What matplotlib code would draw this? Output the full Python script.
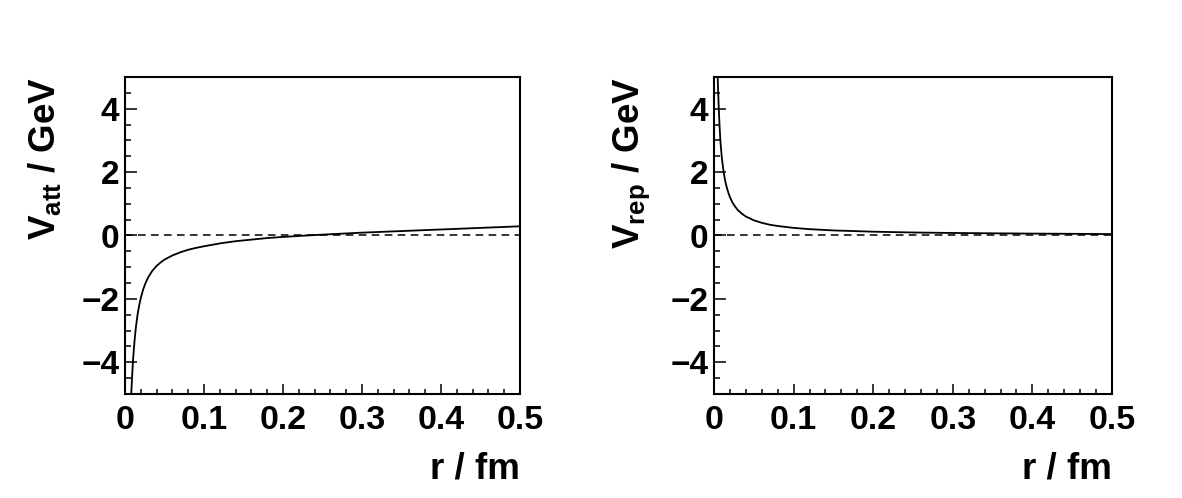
import numpy as np
import matplotlib
matplotlib.use("Agg")
import matplotlib.pyplot as plt
from matplotlib.ticker import MultipleLocator

plt.rcParams['font.family'] = ['Liberation Sans', 'DejaVu Sans']
plt.rcParams['font.weight'] = 'bold'
plt.rcParams['mathtext.fontset'] = 'custom'
plt.rcParams['mathtext.rm'] = 'Liberation Sans:bold'
plt.rcParams['mathtext.it'] = 'Liberation Sans:bold'
plt.rcParams['mathtext.bf'] = 'Liberation Sans:bold'

# attractive potential
r_att = [0.007, 0.008, 0.009, 0.010, 0.011, 0.012, 0.013, 0.014, 0.016, 0.018,
         0.020, 0.023, 0.026, 0.030, 0.035, 0.040, 0.045, 0.050, 0.060, 0.070,
         0.080, 0.090, 0.100, 0.120, 0.140, 0.160, 0.180, 0.200, 0.230, 0.260,
         0.300, 0.350, 0.400, 0.450, 0.500]
v_att = [-5.6, -4.95, -4.45, -4.0, -3.65, -3.35, -3.08, -2.85, -2.48, -2.2,
         -1.97, -1.70, -1.50, -1.29, -1.10, -0.96, -0.85, -0.76, -0.63, -0.53,
         -0.45, -0.39, -0.34, -0.25, -0.18, -0.13, -0.08, -0.045, 0.0, 0.04,
         0.09, 0.14, 0.19, 0.24, 0.29]

# repulsive potential
r_rep = [0.004, 0.005, 0.006, 0.007, 0.008, 0.009, 0.010, 0.012, 0.014, 0.016,
         0.018, 0.020, 0.023, 0.026, 0.030, 0.035, 0.040, 0.050, 0.060, 0.070,
         0.080, 0.100, 0.120, 0.150, 0.200, 0.250, 0.300, 0.350, 0.400, 0.450,
         0.500]
v_rep = [5.6, 4.7, 4.0, 3.45, 3.0, 2.68, 2.42, 2.02, 1.73, 1.52,
         1.35, 1.21, 1.05, 0.93, 0.80, 0.69, 0.60, 0.48, 0.40, 0.34,
         0.30, 0.24, 0.20, 0.16, 0.12, 0.095, 0.08, 0.069, 0.06, 0.053,
         0.045]

xticks = [0, 0.1, 0.2, 0.3, 0.4, 0.5]
xticklabels = ['0', '0.1', '0.2', '0.3', '0.4', '0.5']
yticks = [-4, -2, 0, 2, 4]

W, H = 1182, 498
fig = plt.figure(figsize=(W / 100, H / 100), dpi=100)

panels = [
    (125, 520, r_att, v_att, r'$\mathregular{V_{att}}$ / GeV'),
    (714, 1112, r_rep, v_rep, r'$\mathregular{V_{rep}}$ / GeV'),
]

for x0, x1, r, v, ylab in panels:
    ax = fig.add_axes([x0 / W, (H - 394) / H, (x1 - x0) / W, (394 - 77) / H])
    ax.plot(r, v, color='black', lw=1.3)
    ax.plot([0, 0.5], [0, 0], color='black', lw=1.1, ls=(0, (5, 3.5)))
    ax.set_xlim(0, 0.5)
    ax.set_ylim(-5, 5)
    ax.set_xticks(xticks)
    ax.set_xticklabels(xticklabels)
    ax.set_yticks(yticks)
    ax.xaxis.set_minor_locator(MultipleLocator(0.02))
    ax.yaxis.set_minor_locator(MultipleLocator(0.5))
    ax.tick_params(which='both', direction='in', top=False, right=False, width=1.1)
    ax.tick_params(axis='x', which='major', length=7.5, labelsize=24.5, pad=8)
    ax.tick_params(axis='x', which='minor', length=3.8)
    ax.tick_params(axis='y', which='major', length=8.5, labelsize=24, pad=4)
    ax.tick_params(axis='y', which='minor', length=4.3)
    for s in ax.spines.values():
        s.set_linewidth(1.5)
    for lab in ax.get_xticklabels() + ax.get_yticklabels():
        lab.set_fontweight('bold')
    ax.set_xlabel('r / fm', fontsize=26.5, fontweight='bold', loc='right', labelpad=11)
    ax.set_ylabel(ylab, fontsize=26.5, fontweight='bold', loc='top', labelpad=13)

fig.savefig('out.png', dpi=100, facecolor='white')
